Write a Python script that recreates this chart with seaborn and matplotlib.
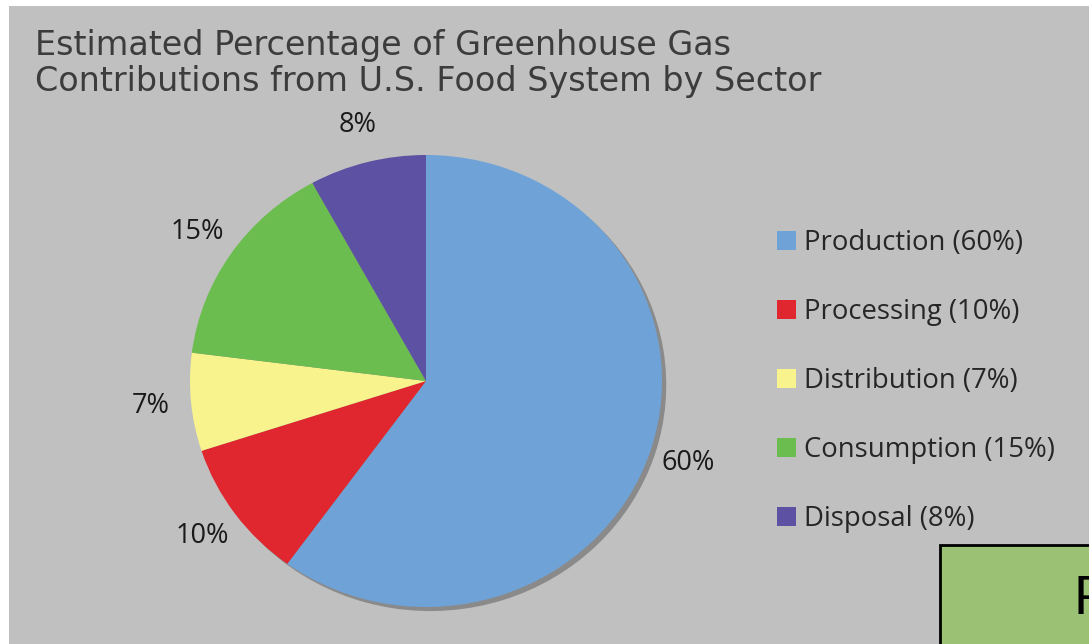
import matplotlib
matplotlib.use("Agg")
import matplotlib.pyplot as plt
from matplotlib.patches import Rectangle
import seaborn as sns

sectors = ["Production", "Processing", "Distribution", "Consumption", "Disposal"]
shares = [60, 10, 7, 15, 8]
colors = ["#6fa3d8", "#e0262f", "#f8f38c", "#6cbd4f", "#5c51a3"]

if __name__ == "__main__":
    sns.set_style("white")
    plt.rcParams["font.family"] = ["Open Sans", "DejaVu Sans"]

    W, H = 1089, 644
    fig = plt.figure(figsize=(W / 100, H / 100), dpi=100, facecolor="white")

    # grey panel (thin white margin top / left as in the screenshot)
    fig.patches.append(Rectangle((9 / W, 0), 1, 1 - 6 / H, transform=fig.transFigure,
                                 facecolor="#c0c0c0", edgecolor="none", zorder=-1))

    # axes box placed so that the unit pie lands at centre (426, 381), rx 236, ry 226
    cx, cy, rx, ry = 426, 381, 236, 226
    x0, x1, y0, y1 = -1.3, 1.3, -1.1, 1.3
    left = (cx + x0 * rx) / W
    width = (x1 - x0) * rx / W
    bottom = (H - cy + y0 * ry) / H
    height = (y1 - y0) * ry / H
    ax = fig.add_axes([left, bottom, width, height])
    ax.set_facecolor("none")

    # shadow
    ax.pie(shares, colors=["#8a8a8a"] * len(shares), startangle=90, counterclock=False,
           center=(0.018, -0.018), wedgeprops={"linewidth": 0})
    wedges, _, autotexts = ax.pie(
        shares, colors=colors, startangle=90, counterclock=False,
        autopct=lambda p: f"{p:.0f}%", pctdistance=1.17,
        wedgeprops={"linewidth": 0},
        textprops={"fontsize": 19.5, "color": "#1a1a1a"})
    ax.set_aspect("auto")
    ax.set_xlim(x0, x1)
    ax.set_ylim(y0, y1)
    ax.axis("off")

    fig.text(35 / W, 1 - 29 / H,
             "Estimated Percentage of Greenhouse Gas\nContributions from U.S. Food System by Sector",
             family="DejaVu Sans", fontsize=24.0, color="#3c3c3c", va="top", ha="left",
             linespacing=1.12)

    labels = [f"{s} ({v}%)" for s, v in zip(sectors, shares)]
    fig.legend(wedges, labels, loc="upper left", bbox_to_anchor=(777 / W, 1 - 229 / H),
               frameon=False, fontsize=19.8, handlelength=0.7, handleheight=0.7,
               handletextpad=0.3, labelspacing=1.49, borderpad=0, borderaxespad=0)

    # partly visible green box, bottom right
    fig.patches.append(Rectangle((940 / W, -0.05), 0.2, 0.05 + 1 - 545 / H,
                                 transform=fig.transFigure, facecolor="#9bc274",
                                 edgecolor="black", linewidth=2, zorder=3))
    fig.text(1073 / W, 1 - 600 / H, "P", family="Liberation Sans", fontsize=40,
             color="black", va="center", ha="left", zorder=4)

    fig.savefig("out.png", dpi=100)
